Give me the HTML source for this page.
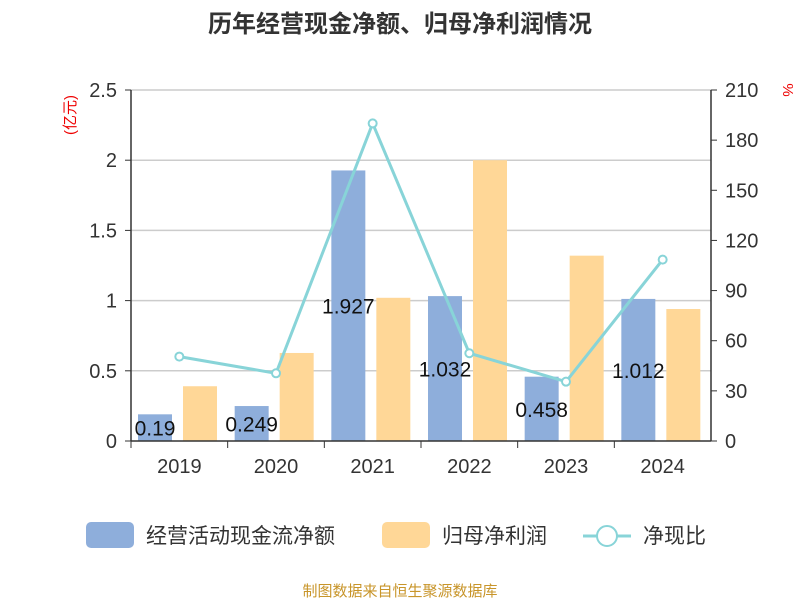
<!DOCTYPE html>
<html><head><meta charset="utf-8"><style>
body{margin:0;background:#fff;}
svg text{font-family:"Liberation Sans","Noto Sans CJK SC",sans-serif;}
</style></head><body>
<svg width="800" height="600" xmlns="http://www.w3.org/2000/svg">
<text x="400" y="32" text-anchor="middle" font-size="24" font-weight="bold" fill="#333">历年经营现金净额、归母净利润情况</text>
<text x="0" y="0" transform="translate(75,115) rotate(-90)" text-anchor="middle" font-size="15" fill="#e00">(亿元)</text>
<text x="0" y="0" transform="translate(783,90) rotate(90)" text-anchor="middle" font-size="15" fill="#e00">%</text>
<g id="grid"></g><g id="bars"></g><g id="axes"></g><g id="line"></g>
<g>
<rect x="86" y="522" width="48" height="26" rx="5" fill="#8eaedb"/>
<text x="146" y="543" font-size="21" fill="#333">经营活动现金流净额</text>
<rect x="382" y="522" width="48" height="26" rx="5" fill="#ffd797"/>
<text x="442" y="543" font-size="21" fill="#333">归母净利润</text>
<line x1="583" y1="536" x2="631" y2="536" stroke="#88d4d8" stroke-width="3"/>
<circle cx="607" cy="536" r="10" fill="#fff" stroke="#88d4d8" stroke-width="2"/>
<text x="643" y="543" font-size="21" fill="#333">净现比</text>
</g>
<text x="400" y="596" text-anchor="middle" font-size="15" fill="#c8952a">制图数据来自恒生聚源数据库</text>
</svg>
<script>
const years=["2019","2020","2021","2022","2023","2024"];
const cashFlow=[0.19,0.249,1.927,1.032,0.458,1.012];
const netProfit=[0.39,0.627,1.02,2.0,1.32,0.94];
const ratio=[50.5,40.5,190,52.5,35.5,108.5];
const leftTicks=[0,0.5,1,1.5,2,2.5];
const rightTicks=[0,30,60,90,120,150,180,210];
const NS="http://www.w3.org/2000/svg";
const X0=131,X1=711,Y0=441,Y1=90;
const cw=(X1-X0)/years.length;
const yL=v=>Y0-(v/2.5)*(Y0-Y1);
const yR=v=>Y0-(v/210)*(Y0-Y1);
function mk(tag,attrs,parent,txt){const e=document.createElementNS(NS,tag);for(const k in attrs)e.setAttribute(k,attrs[k]);if(txt!==undefined)e.textContent=txt;document.getElementById(parent).appendChild(e);return e;}
leftTicks.forEach((t,i)=>{
 if(t>0){const g=mk("line",{x1:X0,x2:X1,y1:yL(t),y2:yL(t),stroke:"#ccc","stroke-width":1.5},"grid");
 
 }
 const l=mk("text",{x:X0-14,y:yL(t)+7,"text-anchor":"end","font-size":20,fill:"#333"},"axes",String(t));
 
 
 const tk=mk("line",{x1:X0-6,x2:X0,y1:yL(t),y2:yL(t),stroke:"#333"},"axes");
 
 
});
rightTicks.forEach(t=>{
 const l=mk("text",{x:X1+14,y:yR(t)+7,"font-size":20,fill:"#333"},"axes",String(t));
 
 
 const tk=mk("line",{x1:X1,x2:X1+6,y1:yR(t),y2:yR(t),stroke:"#333"},"axes");
 
 
});
[["line",{x1:X0,x2:X0,y1:Y1,y2:Y0,stroke:"#333","stroke-width":1.5},"left-axis"],["line",{x1:X1,x2:X1,y1:Y1,y2:Y0,stroke:"#333","stroke-width":1.5},"right-axis"],["line",{x1:X0,x2:X1,y1:Y0,y2:Y0,stroke:"#333","stroke-width":1.5},"x-axis"]].forEach(a=>{const e=mk(a[0],a[1],"axes");
 
 });
years.forEach((y,i)=>{
 const cx=X0+cw*i;
 const tk=mk("line",{x1:cx,x2:cx,y1:Y0,y2:Y0+7,stroke:"#333"},"axes");
 
 
 const l=mk("text",{x:cx+cw/2,y:Y0+32,"text-anchor":"middle","font-size":20,fill:"#333"},"axes",y);
 
 
 const b1=mk("rect",{x:cx+7,y:yL(cashFlow[i]),width:34,height:Y0-yL(cashFlow[i]),fill:"#8eaedb"},"bars");
 
 
 const b2=mk("rect",{x:cx+52,y:yL(netProfit[i]),width:34,height:Y0-yL(netProfit[i]),fill:"#ffd797"},"bars");
 
 
});
years.forEach((y,i)=>{
 const cx=X0+cw*i;
 const v=mk("text",{x:cx+24,y:(yL(cashFlow[i])+Y0)/2+8,"text-anchor":"middle","font-size":21,fill:"#111"},"line",String(cashFlow[i]));
 
 
});
const pts=ratio.map((r,i)=>[X0+cw*i+cw/2,yR(r)]);
const pl=mk("polyline",{points:pts.map(p=>p.join(",")).join(" "),fill:"none",stroke:"#88d4d8","stroke-width":3},"line");


pts.forEach((p,i)=>{const c=mk("circle",{cx:p[0],cy:p[1],r:4,fill:"#fff",stroke:"#88d4d8","stroke-width":2},"line");
 
 });
</script>
</body></html>
